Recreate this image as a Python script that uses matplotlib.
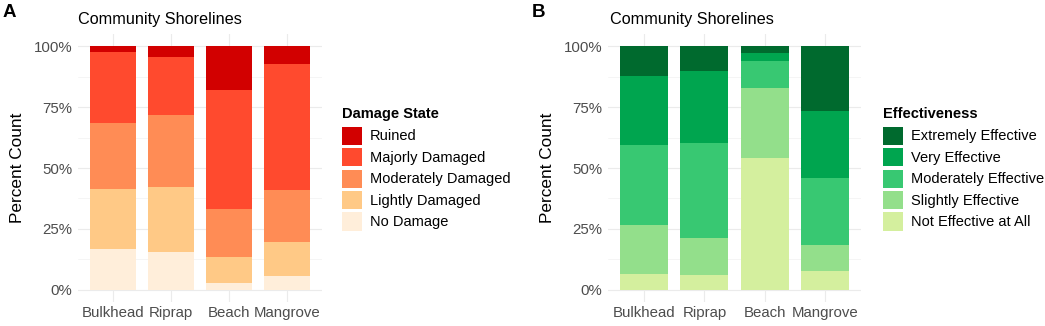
import matplotlib.pyplot as plt
from matplotlib.patches import Patch

plt.rcParams['font.family'] = ['Liberation Sans', 'DejaVu Sans']

W, H = 1045, 326

shorelines = ["Bulkhead", "Riprap", "Beach", "Mangrove"]

# percent of responses, bottom segment first
damage_levels = ["No Damage", "Lightly Damaged", "Moderately Damaged",
                 "Majorly Damaged", "Ruined"]
damage_values = {
    "No Damage":          [16.6, 15.5, 2.6, 5.6],
    "Lightly Damaged":    [24.6, 26.6, 11.0, 14.1],
    "Moderately Damaged": [27.2, 29.5, 19.7, 21.3],
    "Majorly Damaged":    [29.1, 23.9, 48.9, 51.7],
    "Ruined":             [2.5, 4.5, 17.8, 7.3],
}
damage_colors = ["#FFEEDA", "#FFC986", "#FF8C55", "#FF4A2E", "#D20000"]

effect_levels = ["Not Effective at All", "Slightly Effective",
                 "Moderately Effective", "Very Effective", "Extremely Effective"]
effect_values = {
    "Not Effective at All": [6.4, 5.9, 54.0, 7.9],
    "Slightly Effective":   [20.0, 15.3, 29.0, 10.6],
    "Moderately Effective": [32.9, 39.2, 11.0, 27.4],
    "Very Effective":       [28.4, 29.5, 3.0, 27.7],
    "Extremely Effective":  [12.3, 10.1, 3.0, 26.4],
}
effect_colors = ["#D4EF9E", "#93DF8B", "#38C872", "#00A54F", "#006A2E"]

yticks = [0, 25, 50, 75, 100]
ytick_labels = ["0%", "25%", "50%", "75%", "100%"]


def stacked_panel(ax, levels, values, colors):
    x = range(len(shorelines))
    bottom = [0.0] * len(shorelines)
    for lev, col in zip(levels, colors):
        vals = values[lev]
        ax.bar(x, vals, bottom=bottom, width=0.8, color=col, linewidth=0, zorder=2)
        bottom = [b + v for b, v in zip(bottom, vals)]
    ax.set_xlim(-0.6, len(shorelines) - 0.4)
    ax.set_ylim(-5, 105)
    ax.set_xticks(list(x))
    ax.set_xticklabels(shorelines)
    ax.set_yticks(yticks)
    ax.set_yticklabels(ytick_labels)
    ax.set_yticks([12.5, 37.5, 62.5, 87.5], minor=True)
    ax.tick_params(axis='both', which='both', length=0, labelsize=10.8,
                   labelcolor='#4D4D4D')
    ax.tick_params(axis='y', pad=4.3)
    ax.tick_params(axis='x', pad=3)
    ax.grid(True, which='major', color='#EBEBEB', linewidth=0.8, zorder=0)
    ax.grid(True, which='minor', axis='y', color='#F2F2F2', linewidth=0.5, zorder=0)
    for s in ax.spines.values():
        s.set_visible(False)
    ax.set_axisbelow(True)
    ax.set_ylabel("Percent Count", fontsize=12.4, labelpad=6)


fig = plt.figure(figsize=(W / 100, H / 100), dpi=100)

bot = 1 - 302 / H
hgt = 268 / H
axA = fig.add_axes([78 / W, bot, 244 / W, hgt])
axB = fig.add_axes([608 / W, bot, 253 / W, hgt])

stacked_panel(axA, damage_levels, damage_values, damage_colors)
stacked_panel(axB, effect_levels, effect_values, effect_colors)

fig.text(3 / W, 1 - 17 / H, "A", fontsize=13.5, fontweight='bold', va='baseline')
fig.text(532 / W, 1 - 17 / H, "B", fontsize=13.5, fontweight='bold', va='baseline')
fig.text(78 / W, 1 - 24 / H, "Community Shorelines", fontsize=11.7, va='baseline')
fig.text(610 / W, 1 - 24 / H, "Community Shorelines", fontsize=11.7, va='baseline')


def add_legend(title, levels, colors, x0, y0):
    handles = [Patch(facecolor=c, edgecolor='none', label=l)
               for l, c in zip(levels[::-1], colors[::-1])]
    leg = fig.legend(handles=handles, title=title, loc='upper left',
                     bbox_to_anchor=(x0 / W, 1 - y0 / H), frameon=False,
                     fontsize=10.5, title_fontproperties={'weight': 'bold', 'size': 10.5},
                     handlelength=1.37, handleheight=1.55, labelspacing=0.22,
                     handletextpad=0.55, borderpad=0, borderaxespad=0,
                     alignment='left')
    leg._legend_box.sep = 4
    return leg


add_legend("Damage State", damage_levels, damage_colors, 342, 107)
add_legend("Effectiveness", effect_levels, effect_colors, 883, 107)

fig.savefig("out.png", dpi=100)
